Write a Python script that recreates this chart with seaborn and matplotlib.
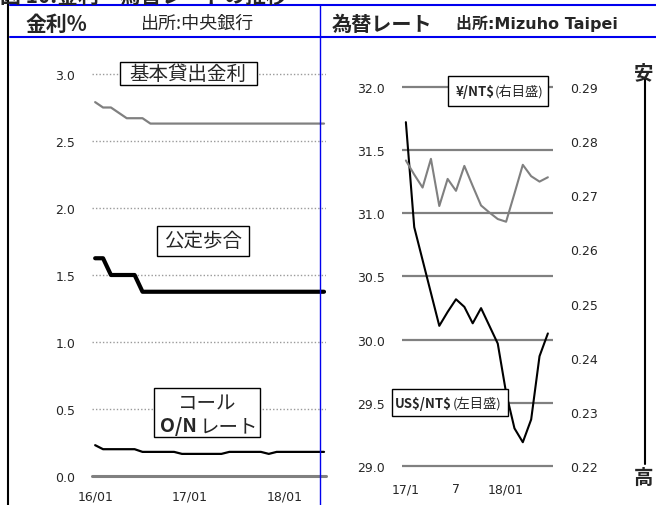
import numpy as np
import pandas as pd
import seaborn as sns
import matplotlib.pyplot as plt
from matplotlib.lines import Line2D
from matplotlib.patches import Rectangle

# ---- data ----
# left panel: monthly, 16/01 .. 18/06
rate_months = [str(p) for p in pd.period_range("2016-01", "2018-06", freq="M")]
base_lending = [2.79, 2.75, 2.75, 2.71, 2.67, 2.67, 2.67, 2.63, 2.63, 2.63,
                2.63, 2.63, 2.63, 2.63, 2.63, 2.63, 2.63, 2.63, 2.63, 2.63,
                2.63, 2.63, 2.63, 2.63, 2.63, 2.63, 2.63, 2.63, 2.63, 2.63]
discount_rate = [1.625, 1.625, 1.5, 1.5, 1.5, 1.5, 1.375, 1.375, 1.375, 1.375,
                 1.375, 1.375, 1.375, 1.375, 1.375, 1.375, 1.375, 1.375, 1.375, 1.375,
                 1.375, 1.375, 1.375, 1.375, 1.375, 1.375, 1.375, 1.375, 1.375, 1.375]
call_rate = [0.23, 0.20, 0.20, 0.20, 0.20, 0.20, 0.18, 0.18, 0.18, 0.18,
             0.18, 0.165, 0.165, 0.165, 0.165, 0.165, 0.165, 0.18, 0.18, 0.18,
             0.18, 0.18, 0.165, 0.18, 0.18, 0.18, 0.18, 0.18, 0.18, 0.18]
rate_ticks = [0, 12, 24]
rate_ticklabels = ["16/01", "17/01", "18/01"]

# right panel: monthly, 17/01 .. 18/06
fx_months = [str(p) for p in pd.period_range("2017-01", "2018-06", freq="M")]
usd_ntd = [31.72, 30.89, 30.63, 30.37, 30.11, 30.22, 30.32, 30.26, 30.13, 30.25,
           30.11, 29.97, 29.58, 29.30, 29.19, 29.37, 29.87, 30.05]
jpy_ntd = [0.2764, 0.2738, 0.2714, 0.2767, 0.2680, 0.2730, 0.2708, 0.2754, 0.2717,
           0.2681, 0.2668, 0.2656, 0.2651, 0.2703, 0.2756, 0.2735, 0.2725, 0.2733]
fx_ticks = [0, 6, 12]
fx_ticklabels = ["17/1", "7", "18/01"]

sns.set_style("white")
plt.rcParams['font.family'] = ['DejaVu Sans', 'Noto Sans CJK JP']
CJK = ['Noto Sans CJK JP', 'DejaVu Sans']

W, H = 656, 506
fig = plt.figure(figsize=(W / 100, H / 100), dpi=100)

def fx(x):
    return x / W

def fy(y):
    return 1 - y / H

def rect(x0, y0, x1, y1):
    return [fx(x0), fy(y1), fx(x1) - fx(x0), fy(y0) - fy(y1)]

GRAY = "#808080"

# ---- left panel ----
ax1 = fig.add_axes(rect(92, 61.6, 326, 483.7))
rates = pd.DataFrame({"m": np.arange(len(rate_months)), "base": base_lending,
                      "disc": discount_rate, "call": call_rate})
for v in [0.5, 1.0, 1.5, 2.0, 2.5, 3.0]:
    ax1.axhline(v, color="#9a9a9a", lw=1, ls=(0, (1, 1.5)), zorder=0)
ax1.axhline(0, color=GRAY, lw=2.2, zorder=1, clip_on=False)
sns.lineplot(data=rates, x="m", y="base", ax=ax1, color=GRAY, lw=1.6)
sns.lineplot(data=rates, x="m", y="disc", ax=ax1, color="black", lw=3)
sns.lineplot(data=rates, x="m", y="call", ax=ax1, color="black", lw=1.6)
ax1.set_xlim(-0.4, 29.25)
ax1.set_ylim(-0.05, 3.1)
ax1.set_yticks([0.0, 0.5, 1.0, 1.5, 2.0, 2.5, 3.0])
ax1.set_yticklabels(["0.0", "0.5", "1.0", "1.5", "2.0", "2.5", "3.0"])
ax1.set_xticks(rate_ticks)
ax1.set_xticklabels(rate_ticklabels)
ax1.tick_params(length=0, labelsize=9)
ax1.tick_params(axis="y", pad=12)
ax1.tick_params(axis="x", pad=5)
ax1.set_xlabel("")
ax1.set_ylabel("")
for s in ax1.spines.values():
    s.set_visible(False)
ax1.patch.set_alpha(0)

# ---- right panel ----
ax2 = fig.add_axes(rect(401.7, 81.4, 553.3, 473.6))
fxdf = pd.DataFrame({"m": np.arange(len(fx_months)), "usd": usd_ntd, "jpy": jpy_ntd})
for v in [29.0, 29.5, 30.0, 30.5, 31.0, 31.5, 32.0]:
    ax2.axhline(v, color=GRAY, lw=1.6, zorder=0)
sns.lineplot(data=fxdf, x="m", y="usd", ax=ax2, color="black", lw=1.5, zorder=3)
ax2.set_xlim(-0.5, 17.65)
ax2.set_ylim(28.95, 32.05)
ax2.set_yticks([29.0, 29.5, 30.0, 30.5, 31.0, 31.5, 32.0])
ax2.set_yticklabels(["29.0", "29.5", "30.0", "30.5", "31.0", "31.5", "32.0"])
ax2.set_xticks(fx_ticks)
ax2.set_xticklabels(fx_ticklabels)
ax2.tick_params(length=0, labelsize=9)
ax2.tick_params(axis="y", pad=12)
ax2.tick_params(axis="x", pad=7)
ax2.set_xlabel("")
ax2.set_ylabel("")

ax3 = ax2.twinx()
sns.lineplot(data=fxdf, x="m", y="jpy", ax=ax3, color=GRAY, lw=1.5)
ax3.set_ylim(0.22 - 0.05 * 0.07 / 3, 0.29 + 0.05 * 0.07 / 3)
ax3.set_yticks([0.22, 0.23, 0.24, 0.25, 0.26, 0.27, 0.28, 0.29])
ax3.set_yticklabels(["0.22", "0.23", "0.24", "0.25", "0.26", "0.27", "0.28", "0.29"])
ax3.tick_params(length=0, labelsize=9, pad=12)
ax3.set_ylabel("")
for a in (ax2, ax3):
    for s in a.spines.values():
        s.set_visible(False)

# ---- frame lines and headers ----
def fline(x0, y0, x1, y1, color, lw):
    fig.add_artist(Line2D([fx(x0), fx(x1)], [fy(y0), fy(y1)], color=color, lw=lw,
                          transform=fig.transFigure))

fline(10, 6, 656, 6, "#0000ee", 1.5)
fline(10, 38, 656, 38, "#0000ee", 1.5)
fline(320, 6, 320, 506, "#0000ee", 1.0)
fline(8, 0, 8, 506, "black", 1.5)
fline(645, 80, 645, 465, "black", 1.5)

fig.text(fx(0), fy(3), "図 10.金利・為替レートの推移", fontsize=15, fontweight="bold",
         ha="left", va="baseline", family=CJK)
fig.text(fx(26), fy(24), "金利%", fontsize=15, fontweight="bold", ha="left",
         va="center", family=CJK)
fig.text(fx(141), fy(24), "出所:中央銀行", fontsize=13, ha="left", va="center", family=CJK)
fig.text(fx(332), fy(24), "為替レート", fontsize=14.5, fontweight="bold", ha="left",
         va="center", family=CJK)
fig.text(fx(456), fy(24), "出所:Mizuho Taipei", fontsize=11.5, fontweight="bold",
         ha="left", va="center")
fig.text(fx(644), fy(74), "安", fontsize=14, fontweight="bold", ha="center",
         va="center", family=CJK)
fig.text(fx(644), fy(478), "高", fontsize=14, fontweight="bold", ha="center",
         va="center", family=CJK)

# ---- label boxes ----
def box(x0, y0, x1, y1):
    fig.add_artist(Rectangle((fx(x0), fy(y1)), fx(x1) - fx(x0), fy(y0) - fy(y1),
                             transform=fig.transFigure, fc="white", ec="black",
                             lw=1, zorder=5))

box(120, 62.7, 256.7, 86)
fig.text(fx(188.3), fy(74.3), "基本貸出金利", fontsize=14, ha="center", va="center",
         zorder=6, family=CJK)
box(156.7, 226.7, 249.3, 256.7)
fig.text(fx(203), fy(241.7), "公定歩合", fontsize=14, ha="center", va="center",
         zorder=6, family=CJK)
box(154, 389.3, 260, 438.3)
fig.text(fx(207), fy(404), "コール", fontsize=14, ha="center", va="center",
         zorder=6, family=CJK)
fig.text(fx(197), fy(427), "O/N", fontsize=14, fontweight="bold", ha="right",
         va="center", zorder=6, family=CJK)
fig.text(fx(200), fy(427), "レート", fontsize=14, ha="left", va="center",
         zorder=6, family=CJK)

box(447.7, 76.7, 547.7, 106.7)
fig.text(fx(494.5), fy(91.7), "¥/NT$", fontsize=9.5, fontweight="bold", ha="right",
         va="center", zorder=6, parse_math=False, family=CJK)
fig.text(fx(495), fy(91.7), "(右目盛)", fontsize=9.5, ha="left", va="center",
         zorder=6, family=CJK)
box(391.7, 390, 508.3, 417.3)
fig.text(fx(452), fy(403.7), "US$/NT$", fontsize=9.5, fontweight="bold", ha="right",
         va="center", zorder=6, parse_math=False, family=CJK)
fig.text(fx(452.5), fy(403.7), "(左目盛)", fontsize=9.5, ha="left", va="center",
         zorder=6, family=CJK)

fig.savefig("out.png", dpi=100)
